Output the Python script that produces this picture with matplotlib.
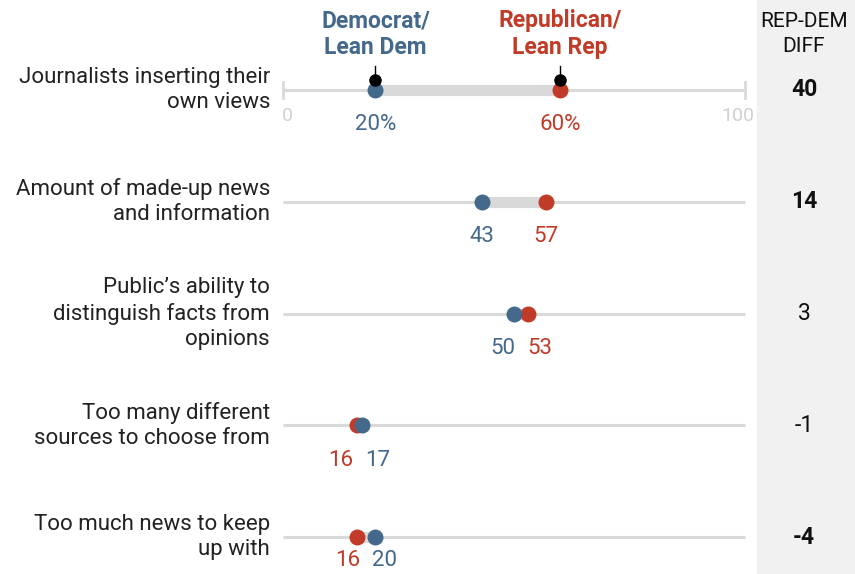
import matplotlib.pyplot as plt

plt.rcParams['font.family'] = ['Roboto', 'DejaVu Sans']

# data
topics = ['Journalists inserting their\nown views',
          'Amount of made-up news\nand information',
          'Public\u2019s ability to\ndistinguish facts from\nopinions',
          'Too many different\nsources to choose from',
          'Too much news to keep\nup with']
dem = [20, 43, 50, 17, 20]
rep = [60, 57, 53, 16, 16]
diff = ['40', '14', '3', '-1', '-4']
diff_bold = [True, True, False, False, True]

BLUE = '#44698a'
RED = '#c03b28'
GRAY = '#d9d9d9'

fig = plt.figure(figsize=(8.55, 5.74), dpi=100)
ax = fig.add_axes([0, 0, 1, 1])
# pixel layout: 0 -> x=283px, 100 -> x=745px ; rows start at 90px, 111.75px apart
px_unit = 4.62
row_px = 111.75
ax.set_xlim(-283 / px_unit, (855 - 283) / px_unit)
ax.set_ylim((574 - 90) / row_px, -90 / row_px)
ax.axis('off')

# diff column background
ax.axvspan((757 - 283) / px_unit, (855 - 283) / px_unit, color='#f1f1f1', zorder=0)

for i in range(len(topics)):
    ax.plot([0, 100], [i, i], color=GRAY, lw=2.2, zorder=1, solid_capstyle='butt')
    ax.plot([min(dem[i], rep[i]), max(dem[i], rep[i])], [i, i], color=GRAY, lw=8,
            zorder=2, solid_capstyle='butt')
    ax.plot(rep[i], i, 'o', color=RED, ms=11.5, mec='none', zorder=3)
    ax.plot(dem[i], i, 'o', color=BLUE, ms=11.5, mec='none', zorder=4)

    # value labels (pushed apart when dots overlap)
    lo, hi = sorted([dem[i], rep[i]])
    if hi - lo < 8:
        mid = (dem[i] + rep[i]) / 2
        x_lo, x_hi = mid - 4, mid + 4
    else:
        x_lo, x_hi = lo, hi
    if dem[i] <= rep[i]:
        xd, xr = x_lo, x_hi
    else:
        xd, xr = x_hi, x_lo
    off = 35 if i < len(topics) - 1 else 24
    for val, col, x in [(dem[i], BLUE, xd), (rep[i], RED, xr)]:
        txt = f'{val}%' if i == 0 else f'{val}'
        ax.text(x, i + off / row_px, txt, color=col, fontsize=16,
                ha='center', va='center')

    ax.text(-13 / px_unit, i, topics[i], ha='right', va='center', fontsize=16,
            color='#222222', linespacing=1.28)
    ax.text((804 - 283) / px_unit, i, diff[i], ha='center', va='center', fontsize=16.5,
            fontweight='bold' if diff_bold[i] else 'normal', color='#111111')

# axis ends and scale on first row
for x in [0, 100]:
    ax.plot([x, x], [-8 / row_px, 8 / row_px], color=GRAY, lw=2, zorder=1)
ax.text(1, 26 / row_px, '0', color='#d0d0d0', fontsize=14, ha='center', va='center')
ax.text(98.5, 26 / row_px, '100', color='#d0d0d0', fontsize=14, ha='center', va='center')

# legend labels with pointer dots
for val, col, lab in [(dem[0], BLUE, 'Democrat/\nLean Dem'), (rep[0], RED, 'Republican/\nLean Rep')]:
    ax.plot([val, val], [-24 / row_px, -10 / row_px], color='black', lw=1, zorder=5)
    ax.plot(val, -10 / row_px, 'o', color='black', ms=8, zorder=5)
    ax.text(val, -56 / row_px, lab, color=col, fontsize=16.5, fontweight='bold',
            ha='center', va='center', linespacing=1.2)

ax.text((804 - 283) / px_unit, -56 / row_px, 'REP-DEM\nDIFF', color='#111111', fontsize=15,
        ha='center', va='center', linespacing=1.35)

fig.savefig('out.png', dpi=100)
